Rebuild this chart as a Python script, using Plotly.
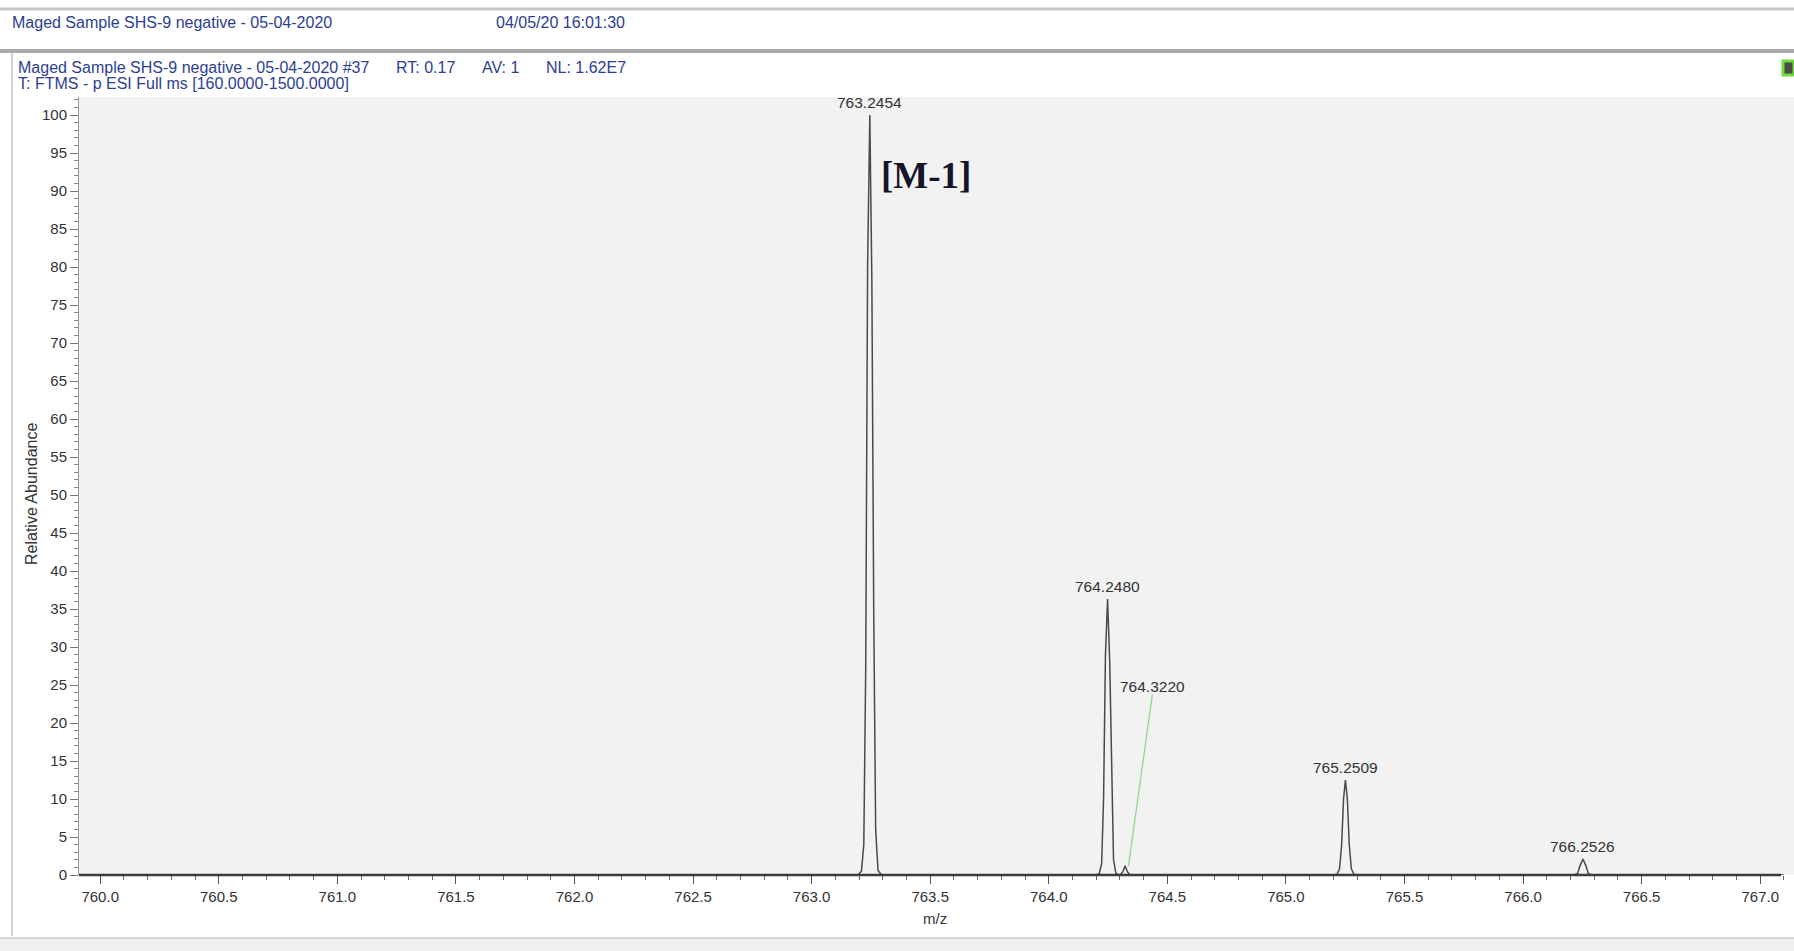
import plotly.graph_objects as go

# ---------------- data ----------------
peak_mz = [763.2454, 764.2480, 764.3220, 765.2509, 766.2526]
peak_int = [100.0, 36.3, 1.2, 12.5, 2.1]
peak_labels = ["763.2454", "764.2480", "764.3220", "765.2509", "766.2526"]

# profile points (m/z, relative abundance)
prof_mz = [759.92,
           763.195, 763.210, 763.220, 763.228, 763.236, 763.2454, 763.254, 763.262, 763.270, 763.280, 763.295,
           764.200, 764.213, 764.223, 764.231, 764.239, 764.2480, 764.257, 764.265, 764.273, 764.283, 764.296,
           764.300, 764.312, 764.3220, 764.332, 764.344,
           765.200, 765.215, 765.226, 765.235, 765.243, 765.2509, 765.259, 765.267, 765.276, 765.287, 765.302,
           766.215, 766.230, 766.240, 766.2526, 766.265, 766.275, 766.290,
           767.10]
prof_int = [0,
            0, 0.5, 4, 27, 80, 100, 78, 34, 6, 0.6, 0,
            0, 0.2, 1.5, 10, 29, 36.3, 28, 12, 2, 0.2, 0,
            0, 0.4, 1.2, 0.4, 0,
            0, 0.1, 0.8, 4, 10, 12.5, 10, 4, 0.8, 0.1, 0,
            0, 0.2, 1.2, 2.1, 1.2, 0.2, 0,
            0]

# leader line for the 764.3220 label: (label end, peak top)
leader_mz = [764.437, 764.336]
leader_int = [23.8, 1.2]

x_ticks = [760.0, 760.5, 761.0, 761.5, 762.0, 762.5, 763.0, 763.5,
           764.0, 764.5, 765.0, 765.5, 766.0, 766.5, 767.0]
y_ticks = list(range(0, 101, 5))

SP = "&nbsp;" * 6
header_title = "Maged Sample SHS-9 negative - 05-04-2020"
header_date = "04/05/20 16:01:30"
scan_line = ("Maged Sample SHS-9 negative - 05-04-2020 #37" + SP + "RT: 0.17" + SP +
             "AV: 1" + SP + "NL: 1.62E7")
filter_line = "T: FTMS - p ESI Full ms [160.0000-1500.0000]"

# ---------------- layout geometry ----------------
W, H = 1794, 951
L, R, T, B = 79, 1794, 97, 875


def px(x):
    return (x - L) / (R - L)


def py(y):
    return (B - y) / (B - T)


FONT = "Liberation Sans, Arial, sans-serif"
BLUE = "#2c3e94"
TXT = "#333333"

fig = go.Figure()
fig.add_trace(go.Scatter(x=prof_mz, y=prof_int, mode="lines",
                         line=dict(color="#4a4a4a", width=1.5),
                         hoverinfo="skip", showlegend=False))
fig.add_trace(go.Scatter(x=leader_mz, y=leader_int, mode="lines",
                         line=dict(color="#8fd48f", width=1.2),
                         hoverinfo="skip", showlegend=False))

annotations = []
for mz, it, lab in zip(peak_mz, peak_int, peak_labels):
    if lab == "764.3220":
        annotations.append(dict(x=leader_mz[0], y=leader_int[0], text=lab, showarrow=False,
                                xanchor="center", yanchor="bottom", yshift=-3,
                                font=dict(family=FONT, size=15.5, color=TXT)))
    else:
        annotations.append(dict(x=mz, y=it, text=lab, showarrow=False,
                                xanchor="center", yanchor="bottom", yshift=2,
                                font=dict(family=FONT, size=15.5, color=TXT)))

annotations.append(dict(xref="paper", yref="paper", x=px(879), y=py(176), text="<b>[M-1]</b>",
                        showarrow=False, xanchor="left", yanchor="middle",
                        font=dict(family="Liberation Serif, Times New Roman, serif", size=37,
                                  color="#15152a")))

# header texts
annotations += [
    dict(xref="paper", yref="paper", x=px(10), y=py(22), text=header_title, showarrow=False,
         xanchor="left", yanchor="middle", font=dict(family=FONT, size=16, color=BLUE)),
    dict(xref="paper", yref="paper", x=px(494), y=py(22), text=header_date, showarrow=False,
         xanchor="left", yanchor="middle", font=dict(family=FONT, size=16, color=BLUE)),
    dict(xref="paper", yref="paper", x=px(16), y=py(68), text=scan_line, showarrow=False,
         xanchor="left", yanchor="middle", font=dict(family=FONT, size=16, color=BLUE)),
    dict(xref="paper", yref="paper", x=px(16), y=py(84), text=filter_line, showarrow=False,
         xanchor="left", yanchor="middle", font=dict(family=FONT, size=16, color=BLUE)),
    dict(xref="paper", yref="paper", x=px(935), y=py(918), text="m/z", showarrow=False,
         xanchor="center", yanchor="middle", font=dict(family=FONT, size=15, color=TXT)),
    dict(xref="paper", yref="paper", x=px(31), y=py(494), text="Relative Abundance", showarrow=False,
         textangle=-90, xanchor="center", yanchor="middle", font=dict(family=FONT, size=16, color=TXT)),
]

shapes = [
    # top separator lines
    dict(type="line", xref="paper", yref="paper", x0=px(0), x1=px(W), y0=py(9), y1=py(9),
         line=dict(color="#c6c6c6", width=3)),
    dict(type="line", xref="paper", yref="paper", x0=px(0), x1=px(W), y0=py(51), y1=py(51),
         line=dict(color="#a9a9a9", width=4)),
    # left frame line
    dict(type="line", xref="paper", yref="paper", x0=px(12), x1=px(12), y0=py(53), y1=py(936),
         line=dict(color="#d2d2d2", width=2)),
    # bottom band
    dict(type="rect", xref="paper", yref="paper", x0=px(0), x1=px(W), y0=py(938), y1=py(H),
         fillcolor="#efefef", line=dict(width=0), layer="below"),
    dict(type="line", xref="paper", yref="paper", x0=px(0), x1=px(W), y0=py(938), y1=py(938),
         line=dict(color="#d6d6d6", width=2)),
    # green indicator
    dict(type="rect", xref="paper", yref="paper", x0=px(1783), x1=px(W), y0=py(61), y1=py(75),
         fillcolor="#4a4a4a", line=dict(color="#6fdc3c", width=3)),
    # x axis baseline
    dict(type="line", xref="paper", yref="paper", x0=0, x1=px(1781), y0=0, y1=0,
         line=dict(color="#3c3c3c", width=2.5)),
]

fig.update_layout(
    width=W, height=H,
    margin=dict(l=L, r=W - R, t=T, b=H - B),
    paper_bgcolor="white", plot_bgcolor="#f2f2f2",
    showlegend=False,
    annotations=annotations, shapes=shapes,
    xaxis=dict(range=[759.9106, 767.1425], tickvals=x_ticks,
               ticktext=[f"{v:.1f}" for v in x_ticks],
               ticks="outside", ticklen=8, tickwidth=1, tickcolor="#555",
               showgrid=False, zeroline=False, showline=False,
               tickfont=dict(family=FONT, size=15, color=TXT),
               minor=dict(dtick=0.1, tick0=760.0, ticks="outside", ticklen=4,
                          tickcolor="#666", showgrid=False)),
    yaxis=dict(range=[0, 102.37], tickvals=y_ticks,
               ticks="outside", ticklen=8, tickwidth=1, tickcolor="#777",
               showgrid=False, zeroline=False, showline=True, linecolor="#999", linewidth=1,
               tickfont=dict(family=FONT, size=15, color=TXT),
               minor=dict(dtick=1, tick0=0, ticks="outside", ticklen=4,
                          tickcolor="#888", showgrid=False)),
)

fig.write_html("out.html", config={"displayModeBar": False},
               post_script="document.body.style.margin='0';document.body.style.overflow='hidden';")
